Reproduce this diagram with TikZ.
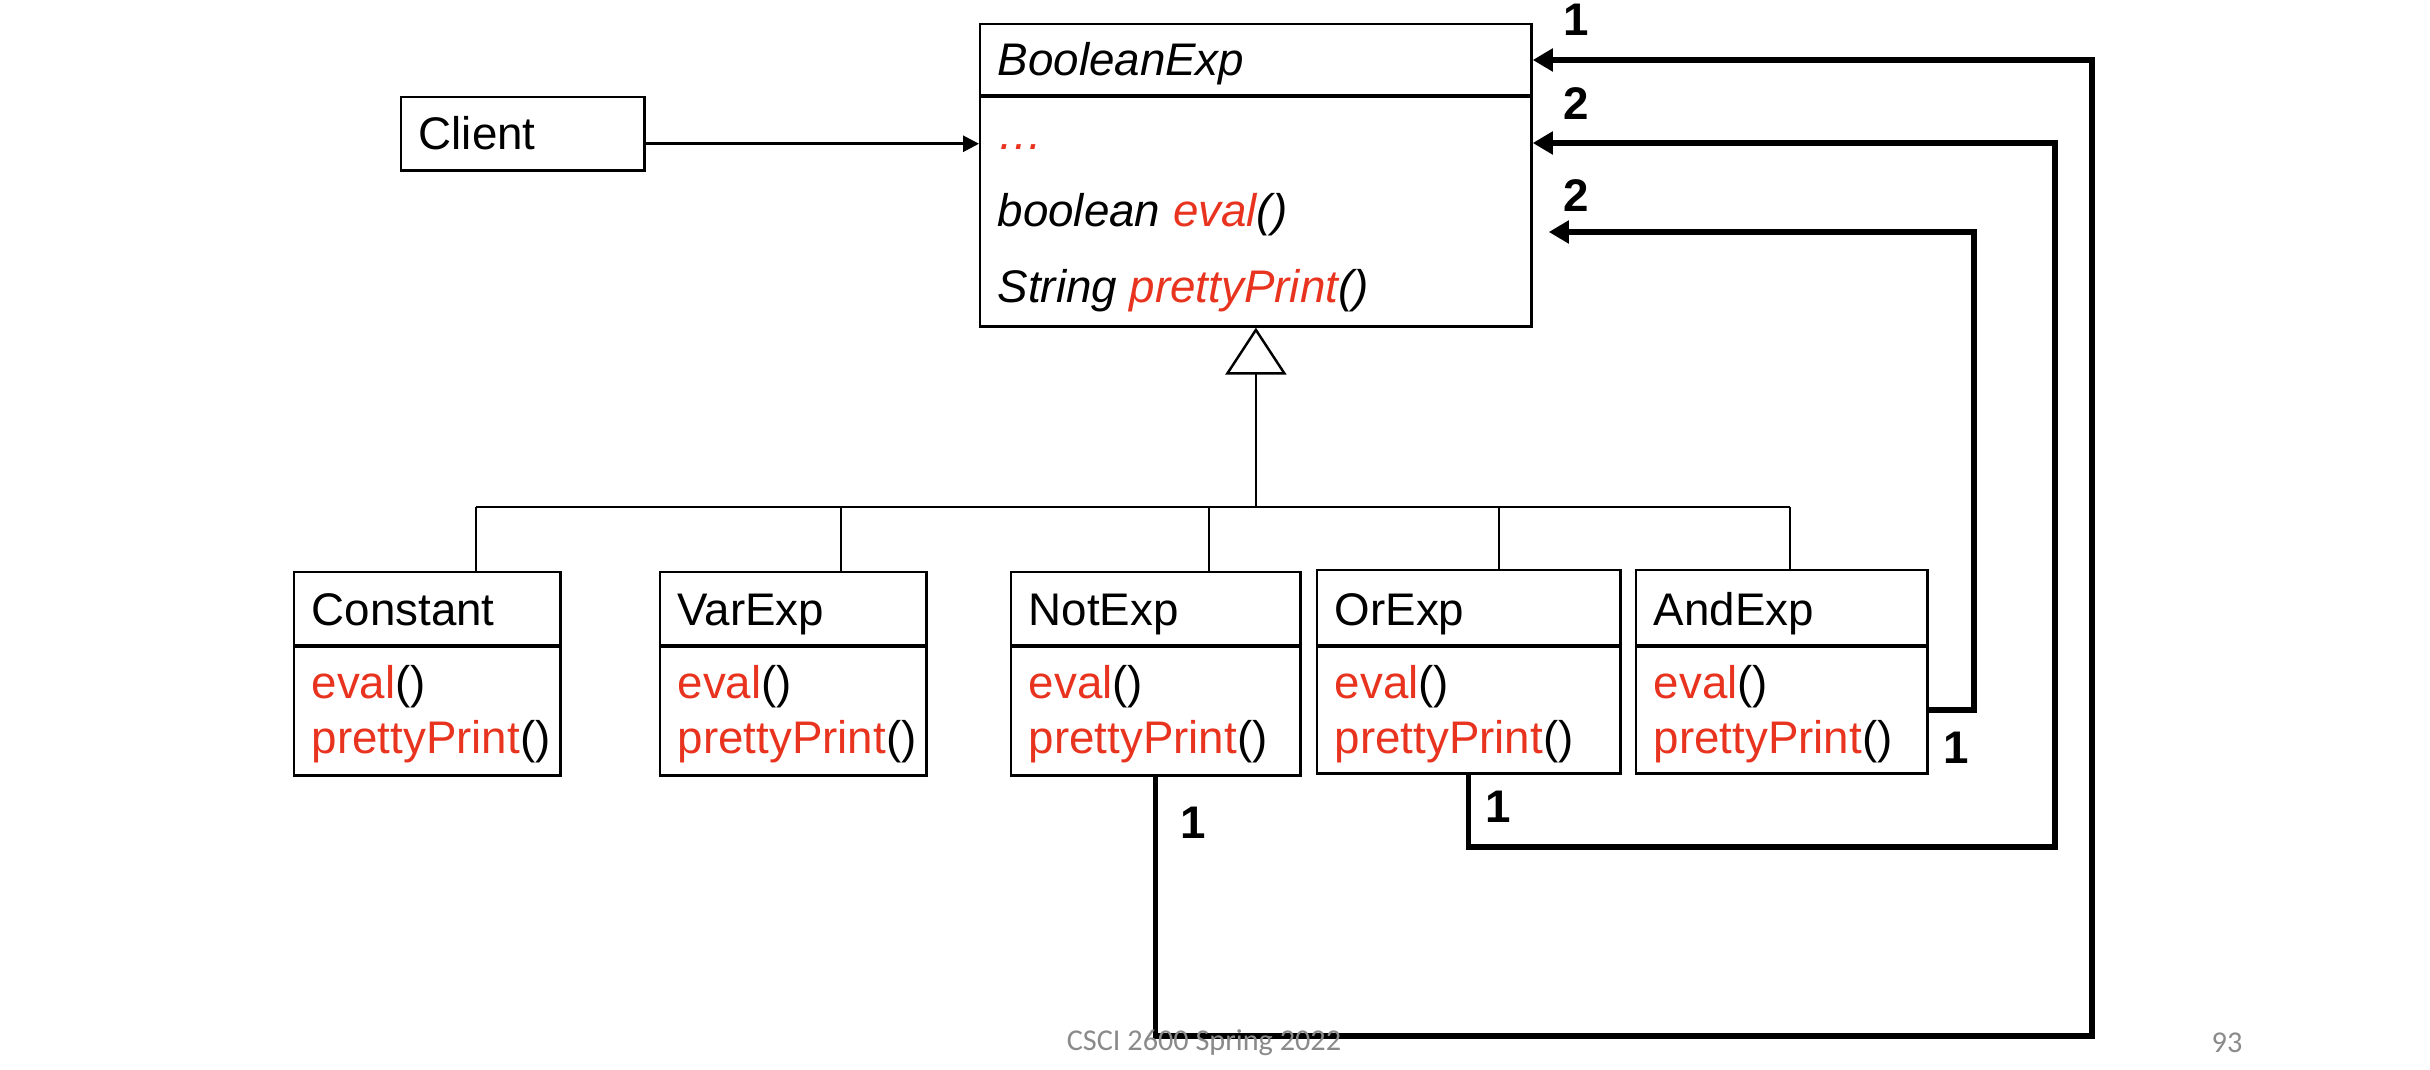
\documentclass[tikz,border=0pt]{standalone}
\usepackage{fontspec}
\setmainfont{Liberation Sans}
\newfontfamily\footfont{Carlito}
\usetikzlibrary{positioning,arrows.meta}
\definecolor{umlred}{HTML}{E8331F}
\definecolor{footgray}{HTML}{8A8A8A}

\begin{document}
\begin{tikzpicture}[x=0.01cm, y=-0.01cm,
    font=\fontsize{13}{15.6}\selectfont,
    cls/.style={draw, line width=0.7pt, anchor=north west, inner sep=0, minimum height=2.03cm},
    txt/.style={anchor=base west, inner sep=0},
    mult/.style={anchor=base, inner sep=0, font=\fontsize{13}{15.6}\selectfont\bfseries},
    tree/.style={line width=0.6pt},
    assoc/.style={line width=1.5pt, -{Triangle[length=2mm, width=2.2mm]}},
    use/.style={line width=0.8pt, -{Triangle[length=1.6mm, width=1.6mm]}}
]
\useasboundingbox (0,0) rectangle (2430,1070);

% superclass
\node[cls, minimum width=5.51cm, minimum height=3.02cm] (bexp) at (979,23) {};
\draw[line width=0.9pt] (bexp.west |- 0,96) -- (bexp.east |- 0,96);
\node[txt] (bname) at (997,76) {\textit{BooleanExp}};
\node[txt] (bdots) at (997,150) {\textit{\textcolor{umlred}{…}}};
\node[txt] (beval) at (997,227) {\textit{boolean \textcolor{umlred}{eval}()}};
\node[txt] (bpp) at (997,303) {\textit{String \textcolor{umlred}{prettyPrint}()}};

% client
\node[cls, minimum width=2.43cm, minimum height=0.73cm] (client) at (400,96) {};
\node[txt] (cname) at (418,150) {Client};
\draw[use] ([yshift=-1mm]client.east) -- ([yshift=-1mm]client.east -| bexp.west);

% subclasses
\node[cls, minimum width=2.66cm] (const) at (293,571) {};
\node[cls, minimum width=2.66cm] (varexp) at (659,571) {};
\node[cls, minimum width=2.89cm] (notexp) at (1010,571) {};
\node[cls, minimum width=3.03cm] (orexp) at (1316,569) {};
\node[cls, minimum width=2.91cm] (andexp) at (1635,569) {};

\foreach \n/\t in {const/Constant, varexp/VarExp, notexp/NotExp, orexp/OrExp, andexp/AndExp} {
    \draw[line width=1.1pt] (\n.west |- 0,646) -- (\n.east |- 0,646);
    \node[txt] (\n-name) at ([xshift=1.8mm]\n.west |- 0,625) {\t};
    \node[txt] (\n-eval) at ([xshift=1.8mm]\n.west |- 0,698) {\textcolor{umlred}{eval}()};
    \node[txt] (\n-pp) at ([xshift=1.8mm]\n.west |- 0,753) {\textcolor{umlred}{prettyPrint}()};
}

% generalization
\draw[tree, -{Triangle[open, length=4.7mm, width=6.1mm, line width=0.7pt]}] (bexp.south |- 0,507) -- (bexp.south);
\draw[tree] (476,507) -- (1790,507);
\foreach \x/\n in {476/const, 841/varexp, 1209/notexp, 1499/orexp, 1790/andexp}
    \draw[tree] (\x,507) -- (\x,507 |- \n.north);

% associations
\draw[assoc] (notexp.south) |- (2092,1036) |- (bexp.east |- 0,60);
\draw[assoc] (orexp.south) |- (2055,847) |- (bexp.east |- 0,143);
\draw[assoc] (andexp.east |- 0,710) -| (1974,232) -- ([xshift=1.6mm]bexp.east |- 0,232);

\node[mult] (m1) at (1576,36) {1};
\node[mult] (m2) at (1576,120) {2};
\node[mult] (m3) at (1576,212) {2};
\node[mult] (m4) at (1193,838) {1};
\node[mult] (m5) at (1498,822) {1};
\node[mult] (m6) at (1956,763) {1};

% footer
\node[font=\footfont\fontsize{8.6}{10}\selectfont, text=footgray] (foot) at (1204,1043) {CSCI 2600 Spring 2022};
\node[font=\footfont\fontsize{8.6}{10}\selectfont, text=footgray] (page) at (2227,1043) {93};
\end{tikzpicture}
\end{document}
